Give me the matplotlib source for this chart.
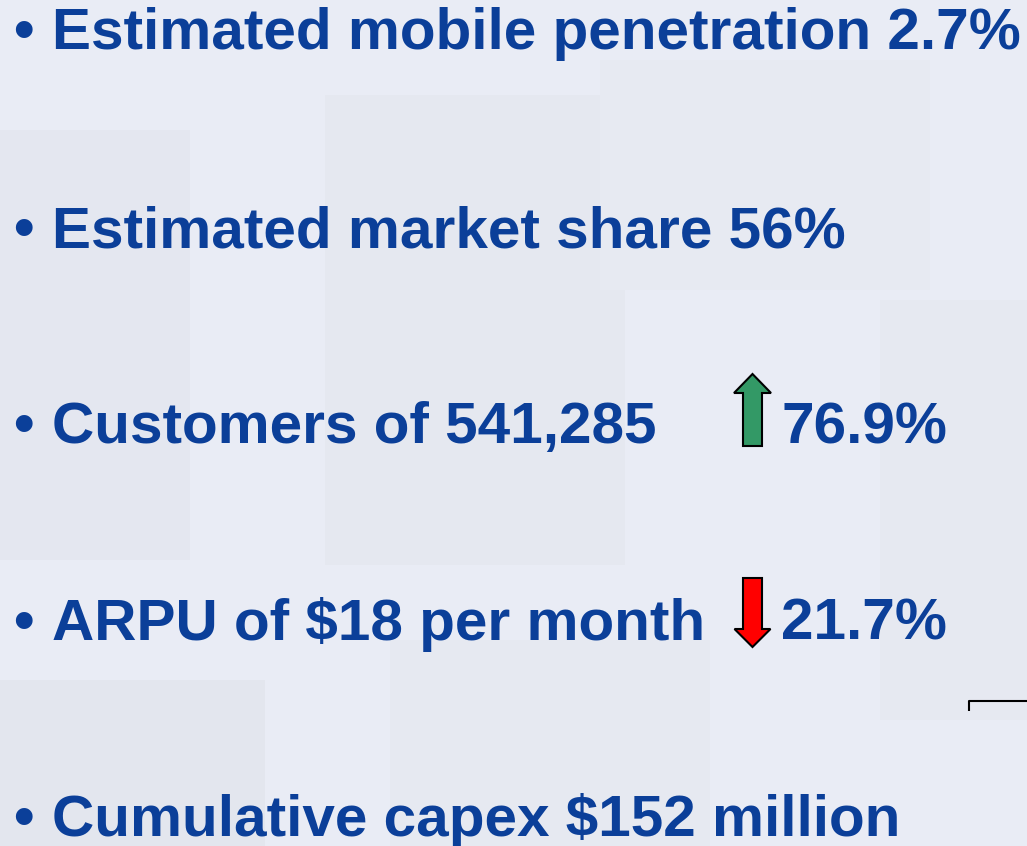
import matplotlib
matplotlib.use("Agg")
import matplotlib.pyplot as plt
from matplotlib.patches import FancyArrow, Rectangle

# slide content
bullets = [
    "Estimated mobile penetration 2.7%",
    "Estimated market share 56%",
    "Customers of 541,285",
    "ARPU of $18 per month",
    "Cumulative capex $152 million",
]
changes = {2: ("up", "76.9%"), 3: ("down", "21.7%")}

TEXT_COLOR = "#0b3f99"
BG = "#e9ecf5"
W, H = 1027, 846

fig = plt.figure(figsize=(W / 100, H / 100), dpi=100)
fig.patch.set_facecolor(BG)
ax = fig.add_axes([0, 0, 1, 1])
ax.set_xlim(0, W)
ax.set_ylim(H, 0)
ax.axis("off")

# faint background squares
for x, y, w, h, c in [
    (0, 130, 190, 430, "#e4e7f0"),
    (325, 95, 300, 470, "#e5e8f0"),
    (600, 60, 330, 230, "#e7eaf2"),
    (0, 680, 265, 166, "#e3e6ee"),
    (390, 640, 320, 206, "#e6e9f1"),
    (880, 300, 147, 420, "#e6e9f1"),
]:
    ax.add_patch(Rectangle((x, y), w, h, facecolor=c, edgecolor="none", zorder=0))

font = dict(family="Liberation Sans", weight="bold", size=42.1, color=TEXT_COLOR)
baselines = [49, 247, 443, 640, 836]
for i, (txt, yb) in enumerate(zip(bullets, baselines)):
    ax.text(13, yb, "\u2022", va="baseline", ha="left", **font)
    ax.text(52, yb, txt, va="baseline", ha="left", **font)
    if i in changes:
        direction, pct = changes[i]
        if direction == "up":
            arr = FancyArrow(752.5, 446, 0, -72, width=19, head_width=37,
                             head_length=19, length_includes_head=True,
                             facecolor="#339966", edgecolor="black", lw=1.5)
        else:
            arr = FancyArrow(752.5, 578, 0, 69, width=19, head_width=36,
                             head_length=18, length_includes_head=True,
                             facecolor="#ff0000", edgecolor="black", lw=1.5)
        ax.add_patch(arr)
        ax.text(781, yb, pct, va="baseline", ha="left", **font)

# stray connector at right edge
ax.plot([969, 969, W], [711, 701.5, 701.5], color="black", lw=1.5,
        solid_capstyle="butt")

fig.savefig("out.png", dpi=100, facecolor=BG)
